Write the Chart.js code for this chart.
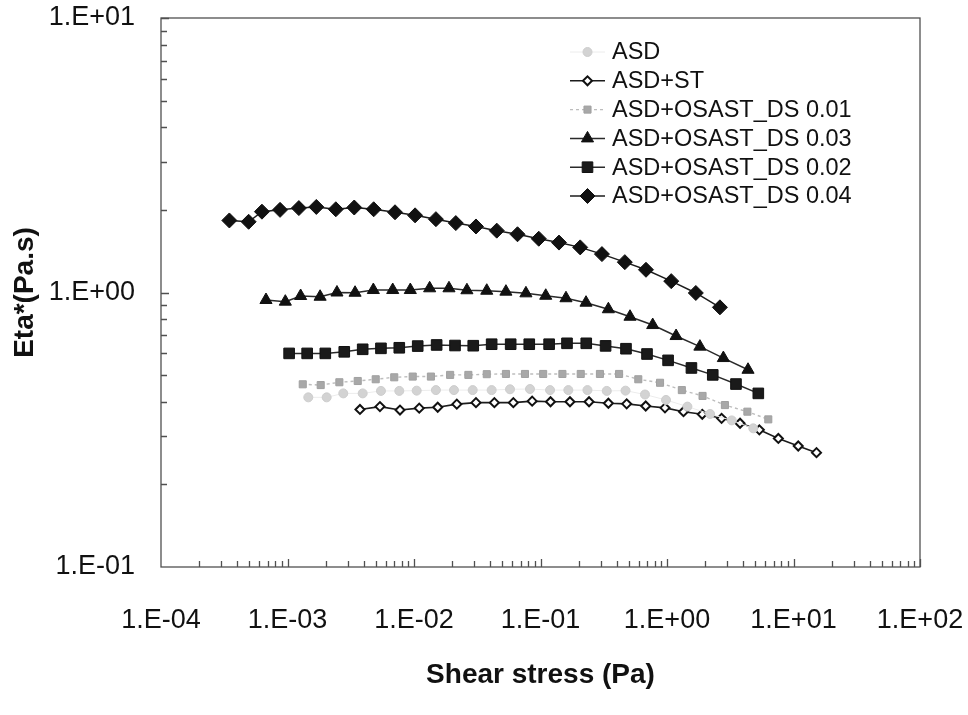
<!DOCTYPE html>
<html>
<head>
<meta charset="utf-8">
<title>Eta* vs shear stress</title>
<script src="https://cdn.jsdelivr.net/npm/chart.js@4.4.0/dist/chart.umd.min.js"></script>
<style>
  html, body { margin: 0; padding: 0; background: #fff; }
  canvas { display: block; }
</style>
</head>
<body>
<canvas id="eta" width="968" height="715"></canvas>
<script>
// shear stress (Pa) / complex viscosity (Pa.s) per sample
const asdStress = [1.46e-3, 2.04e-3, 2.76e-3, 3.93e-3, 5.48e-3, 7.65e-3, 0.0105, 0.0149, 0.0207, 0.0291, 0.0411, 0.0574, 0.0826, 0.119, 0.166, 0.235, 0.334, 0.470, 0.670, 0.982, 1.45, 2.19, 3.25, 4.81];
const asdEta = [0.415, 0.415, 0.429, 0.429, 0.438, 0.438, 0.439, 0.441, 0.441, 0.441, 0.441, 0.444, 0.445, 0.441, 0.441, 0.441, 0.438, 0.439, 0.425, 0.406, 0.384, 0.361, 0.342, 0.320];

const stStress = [3.74e-3, 5.38e-3, 7.75e-3, 0.0110, 0.0154, 0.0218, 0.0309, 0.0432, 0.0610, 0.0859, 0.120, 0.171, 0.242, 0.344, 0.480, 0.679, 0.964, 1.35, 1.90, 2.70, 3.78, 5.37, 7.59, 10.9, 15.2];
const stEta = [0.375, 0.384, 0.373, 0.379, 0.382, 0.392, 0.397, 0.397, 0.397, 0.402, 0.400, 0.400, 0.400, 0.395, 0.393, 0.386, 0.380, 0.368, 0.360, 0.348, 0.334, 0.316, 0.294, 0.276, 0.261];

const ds01Stress = [1.32e-3, 1.83e-3, 2.57e-3, 3.59e-3, 4.98e-3, 6.98e-3, 9.77e-3, 0.0136, 0.0193, 0.0269, 0.0376, 0.0533, 0.0754, 0.105, 0.149, 0.208, 0.295, 0.418, 0.593, 0.881, 1.31, 1.91, 2.87, 4.32, 6.32];
const ds01Eta = [0.463, 0.460, 0.471, 0.476, 0.483, 0.491, 0.494, 0.494, 0.501, 0.501, 0.504, 0.505, 0.505, 0.505, 0.505, 0.505, 0.505, 0.505, 0.483, 0.469, 0.441, 0.420, 0.389, 0.368, 0.345];

const ds03Stress = [6.76e-4, 9.61e-4, 1.27e-3, 1.81e-3, 2.46e-3, 3.42e-3, 4.77e-3, 6.79e-3, 9.35e-3, 0.0133, 0.0189, 0.0262, 0.0376, 0.0533, 0.0767, 0.110, 0.159, 0.229, 0.344, 0.510, 0.771, 1.18, 1.82, 2.79, 4.37];
const ds03Eta = [0.939, 0.926, 0.971, 0.965, 1.00, 0.998, 1.021, 1.021, 1.021, 1.036, 1.036, 1.019, 1.015, 1.007, 0.993, 0.973, 0.953, 0.918, 0.869, 0.816, 0.761, 0.694, 0.635, 0.577, 0.523];

const ds02Stress = [1.03e-3, 1.43e-3, 1.99e-3, 2.81e-3, 3.93e-3, 5.48e-3, 7.65e-3, 0.0107, 0.0151, 0.0211, 0.0294, 0.0411, 0.0581, 0.0815, 0.117, 0.162, 0.230, 0.327, 0.474, 0.695, 1.02, 1.56, 2.30, 3.51, 5.27];
const ds02Eta = [0.600, 0.600, 0.600, 0.608, 0.621, 0.626, 0.629, 0.638, 0.644, 0.641, 0.640, 0.648, 0.648, 0.648, 0.648, 0.653, 0.653, 0.639, 0.624, 0.597, 0.566, 0.531, 0.501, 0.464, 0.429];

const ds04Stress = [3.47e-4, 4.93e-4, 6.28e-4, 8.73e-4, 1.23e-3, 1.69e-3, 2.41e-3, 3.37e-3, 4.80e-3, 7.08e-3, 0.0102, 0.0149, 0.0214, 0.0309, 0.0451, 0.0658, 0.0969, 0.140, 0.206, 0.306, 0.464, 0.682, 1.08, 1.69, 2.62];
const ds04Eta = [1.83, 1.81, 1.97, 2.00, 2.03, 2.05, 2.01, 2.04, 2.01, 1.96, 1.91, 1.85, 1.79, 1.74, 1.68, 1.63, 1.57, 1.52, 1.46, 1.38, 1.29, 1.21, 1.10, 0.996, 0.883];

const xDecades = [1e-4, 1e-3, 1e-2, 1e-1, 1, 10, 100];
const yDecades = [0.1, 1, 10];

const SANS = '"Liberation Sans", Arial, sans-serif';

const pts = (xs, ys) => xs.map((x, i) => ({ x, y: ys[i] }));

// "1.E-03" style labels like the spreadsheet export
function expLabel(v) {
  const e = Math.round(Math.log10(v));
  return '1.E' + (e < 0 ? '-' : '+') + String(Math.abs(e)).padStart(2, '0');
}

// keep the plot box fixed: no extra room for half labels
function fixBox(size) {
  return s => {
    if (s.isHorizontal()) s.height = size; else s.width = size;
    s.paddingLeft = s.paddingRight = s.paddingTop = s.paddingBottom = 0;
  };
}

// box around the plot with inward log ticks on the bottom and left
const frameTicks = {
  id: 'frameTicks',
  beforeDatasetsDraw(chart) {
    const { ctx, chartArea: a, scales: { x, y } } = chart;
    ctx.save();
    ctx.strokeStyle = '#505050';
    ctx.lineWidth = 1.3;
    ctx.strokeRect(a.left, a.top, a.right - a.left, a.bottom - a.top);
    ctx.beginPath();
    for (let e = -4; e < 2; e++) {
      for (let m = 2; m <= 10; m++) {
        const px = Math.round(x.getPixelForValue(m * Math.pow(10, e))) + 0.5;
        ctx.moveTo(px, a.bottom);
        ctx.lineTo(px, a.bottom - (m === 10 ? 8 : 6));
      }
    }
    for (let e = -1; e < 1; e++) {
      for (let m = 2; m <= 10; m++) {
        const py = Math.round(y.getPixelForValue(m * Math.pow(10, e))) + 0.5;
        ctx.moveTo(a.left, py);
        ctx.lineTo(a.left + (m === 10 ? 8 : 6), py);
      }
    }
    ctx.stroke();
    ctx.restore();
  }
};

// legend inside the plot, top right
const innerLegend = {
  id: 'innerLegend',
  afterDraw(chart, args, opts) {
    const { ctx } = chart;
    ctx.save();
    ctx.font = '23.5px ' + SANS;
    ctx.textBaseline = 'middle';
    chart.data.datasets.forEach((ds, i) => {
      const yy = opts.top + i * opts.gap;
      ctx.strokeStyle = ds.borderColor;
      ctx.lineWidth = ds.borderWidth;
      ctx.setLineDash(ds.borderDash || []);
      ctx.beginPath();
      ctx.moveTo(opts.left, yy);
      ctx.lineTo(opts.left + 35, yy);
      ctx.stroke();
      ctx.setLineDash([]);
      ctx.fillStyle = ds.pointBackgroundColor;
      ctx.strokeStyle = ds.pointBorderColor;
      ctx.lineWidth = ds.pointBorderWidth;
      Chart.helpers.drawPoint(ctx, {
        pointStyle: ds.pointStyle,
        radius: ds.pointRadius,
        borderWidth: ds.pointBorderWidth,
        rotation: 0
      }, opts.left + 17.5, yy);
      ctx.fillStyle = '#111';
      ctx.fillText(ds.label, opts.left + 42, yy + 1);
    });
    ctx.restore();
  }
};

new Chart(document.getElementById('eta'), {
  type: 'line',
  data: {
    datasets: [
      {
        label: 'ASD', data: pts(asdStress, asdEta),
        borderColor: '#ececec', borderWidth: 1,
        pointStyle: 'circle', pointRadius: 4.5,
        pointBackgroundColor: '#d3d3d3', pointBorderColor: '#cdcdcd', pointBorderWidth: 1
      },
      {
        label: 'ASD+ST', data: pts(stStress, stEta),
        borderColor: '#1c1c1c', borderWidth: 1.6,
        pointStyle: 'rectRot', pointRadius: 4.5,
        pointBackgroundColor: '#ffffff', pointBorderColor: '#111111', pointBorderWidth: 2
      },
      {
        label: 'ASD+OSAST_DS 0.01', data: pts(ds01Stress, ds01Eta),
        borderColor: '#bdbdbd', borderWidth: 1.4, borderDash: [3, 3],
        pointStyle: 'rect', pointRadius: 5,
        pointBackgroundColor: '#a8a8a8', pointBorderColor: '#a0a0a0', pointBorderWidth: 1
      },
      {
        label: 'ASD+OSAST_DS 0.03', data: pts(ds03Stress, ds03Eta),
        borderColor: '#2a2a2a', borderWidth: 1.5,
        pointStyle: 'triangle', pointRadius: 7,
        pointBackgroundColor: '#111111', pointBorderColor: '#111111', pointBorderWidth: 1
      },
      {
        label: 'ASD+OSAST_DS 0.02', data: pts(ds02Stress, ds02Eta),
        borderColor: '#2a2a2a', borderWidth: 1.5,
        pointStyle: 'rect', pointRadius: 7.5,
        pointBackgroundColor: '#1a1a1a', pointBorderColor: '#111111', pointBorderWidth: 1
      },
      {
        label: 'ASD+OSAST_DS 0.04', data: pts(ds04Stress, ds04Eta),
        borderColor: '#1c1c1c', borderWidth: 1.5,
        pointStyle: 'rectRot', pointRadius: 7.5,
        pointBackgroundColor: '#111111', pointBorderColor: '#111111', pointBorderWidth: 1
      }
    ]
  },
  options: {
    responsive: false,
    animation: false,
    events: [],
    layout: { padding: { top: 18, right: 48, left: 0, bottom: 0 } },
    elements: { line: { tension: 0 } },
    plugins: {
      legend: { display: false },
      tooltip: { enabled: false },
      innerLegend: { left: 570, top: 52, gap: 28.8 }
    },
    scales: {
      x: {
        type: 'logarithmic',
        position: 'bottom',
        min: 1e-4,
        max: 100,
        grid: { display: false, drawTicks: false },
        border: { display: false },
        afterBuildTicks: s => { s.ticks = xDecades.map(v => ({ value: v })); },
        afterFit: fixBox(148),
        ticks: {
          autoSkip: false,
          maxRotation: 0,
          padding: 40,
          color: '#111',
          font: { family: SANS, size: 27, lineHeight: 1 },
          callback: v => expLabel(v)
        },
        title: {
          display: true,
          text: 'Shear stress (Pa)',
          color: '#111',
          font: { family: SANS, size: 28, weight: 'bold' },
          padding: { bottom: 23 }
        }
      },
      y: {
        type: 'logarithmic',
        min: 0.1,
        max: 10,
        grid: { display: false, drawTicks: false },
        border: { display: false },
        afterBuildTicks: s => { s.ticks = yDecades.map(v => ({ value: v })); },
        afterFit: fixBox(161),
        ticks: {
          padding: 26,
          color: '#111',
          font: { family: SANS, size: 27, lineHeight: 1 },
          callback: v => expLabel(v)
        },
        title: {
          display: true,
          text: 'Eta*(Pa.s)',
          color: '#111',
          font: { family: SANS, size: 28, weight: 'bold' },
          padding: { top: 8 }
        }
      }
    }
  },
  plugins: [frameTicks, innerLegend]
});
</script>
</body>
</html>
